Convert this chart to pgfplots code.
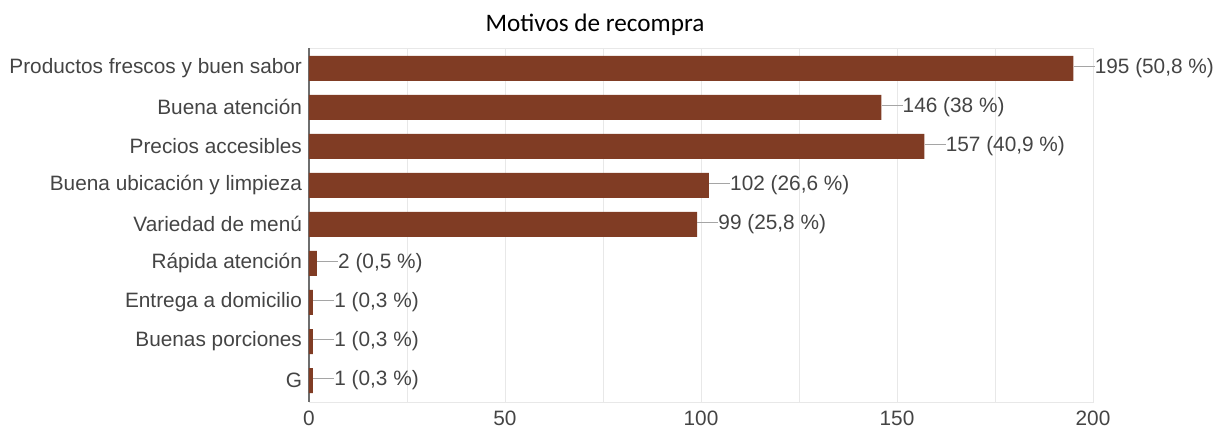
\documentclass[border=0pt]{standalone}
\usepackage{pgfplots}
\pgfplotsset{compat=1.18}
\usepackage{fontspec}
\setmainfont{Liberation Sans}
\newfontfamily\titlefont{Carlito}
\definecolor{barc}{RGB}{128,60,36}
\definecolor{gridc}{RGB}{232,232,232}
\definecolor{txt}{RGB}{68,68,68}
\definecolor{axc}{RGB}{110,110,110}
\definecolor{conn}{RGB}{165,165,165}
\begin{document}
\begin{tikzpicture}
\useasboundingbox (0,0) rectangle (608.5pt,216pt);
\begin{axis}[
 at={(154.5pt,15pt)}, anchor=south west,
 scale only axis, width=392pt, height=177pt,
 xbar, bar width=12.5pt,
 xmin=0, xmax=200, ymin=-0.52, ymax=8.55, y dir=reverse,
 ytick={0,...,8},
 yticklabels={Productos frescos y buen sabor, Buena atención, Precios accesibles, Buena ubicación y limpieza, Variedad de menú, Rápida atención, Entrega a domicilio, Buenas porciones, G},
 xtick={0,50,100,150,200}, minor xtick={25,75,125,175},
 xmajorgrids, xminorgrids,
 major grid style={draw=gridc}, minor grid style={draw=gridc},
 major tick length=0pt, minor tick length=0pt,
 axis line style={draw=gridc},
 tick label style={font=\fontsize{10.4}{12}\selectfont, text=txt},
 xticklabel style={yshift=-1.2pt},
 /pgf/number format/assume math mode=true,
 extra x ticks={0}, extra x tick labels={},
 extra x tick style={grid=major, major grid style={draw=axc, line width=1.1pt}},
 point meta=explicit symbolic,
 nodes near coords={{\color{conn}\rule[0.33em]{10.5pt}{0.6pt}}\pgfplotspointmeta},
 nodes near coords style={font=\fontsize{10.4}{12}\selectfont, text=txt, anchor=west, inner xsep=0pt},
]
\addplot[fill=barc, draw=none] coordinates {
 (195,0) [195 (50,8 \%)]
 (146,1) [146 (38 \%)]
 (157,2) [157 (40,9 \%)]
 (102,3) [102 (26,6 \%)]
 (99,4) [99 (25,8 \%)]
 (2,5) [2 (0,5 \%)]
 (1,6) [1 (0,3 \%)]
 (1,7) [1 (0,3 \%)]
 (1,8) [1 (0,3 \%)]
};
\end{axis}
\node[font=\titlefont\fontsize{12.6}{15}\selectfont, text=black] at (297.5pt,203.5pt) {Motivos de recompra};
\end{tikzpicture}
\end{document}
